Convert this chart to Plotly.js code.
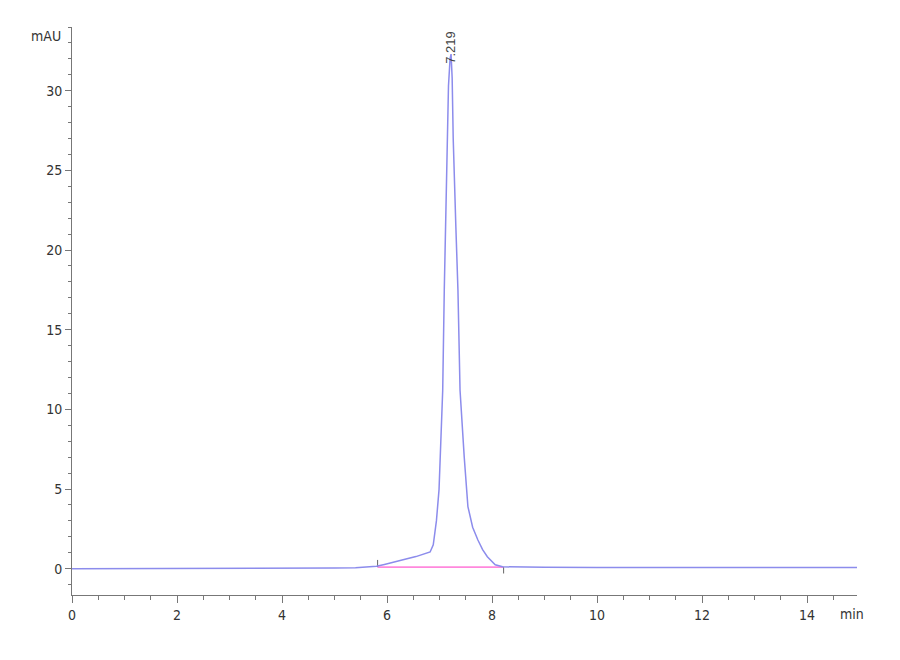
<!DOCTYPE html>
<html>
<head>
<meta charset="utf-8">
<script src="https://cdn.plot.ly/plotly-3.0.1.min.js"></script>
<style>
  html, body { margin: 0; padding: 0; background: #fff; }
  #chart { width: 900px; height: 660px; }
</style>
</head>
<body>
<div id="chart"></div>
<script>
// --- chromatogram values (min, mAU) ---
const times = [0, 1, 2, 3, 4, 4.5, 5, 5.4, 5.65, 5.8, 5.95, 6.1, 6.19, 6.38, 6.55, 6.7, 6.82,
  6.88, 6.94, 6.99, 7.03, 7.06, 7.09, 7.14, 7.17, 7.2, 7.219, 7.24, 7.26, 7.31, 7.35, 7.39,
  7.43, 7.47, 7.54, 7.63, 7.73, 7.82, 7.91, 8.06, 8.2, 8.5, 9, 10, 11, 12, 13, 14, 14.95];
const signal = [0, 0, 0, 0.01, 0.02, 0.03, 0.04, 0.06, 0.09, 0.15, 0.27, 0.38, 0.46, 0.63, 0.76, 0.9, 1.05,
  1.5, 3.0, 4.96, 8.0, 11.2, 17.5, 26.9, 30.3, 32.0, 32.3, 30.8, 27.0, 21.5, 17.5, 11.2,
  9.0, 7.0, 3.9, 2.6, 1.8, 1.2, 0.75, 0.25, 0.12, 0.1, 0.09, 0.08, 0.08, 0.08, 0.08, 0.08, 0.08];

// integration baseline and its start / end markers
const baseX = [5.82, 8.22];
const baseY = [0.1, 0.1];
const startMarkX = [5.82, 5.82];
const startMarkY = [0.1, 0.55];
const endMarkX = [8.22, 8.22];
const endMarkY = [0.1, -0.3];

const peakTime = 7.219;
const peakLabel = '7.219';

const tickFont = { family: 'DejaVu Sans Condensed, Liberation Sans Narrow, Liberation Sans, sans-serif', size: 14, color: '#333' };
const axisColor = '#777';

const traces = [
  {
    x: baseX, y: baseY, mode: 'lines', type: 'scatter',
    line: { color: '#ff88dd', width: 1.8 }, hoverinfo: 'skip'
  },
  {
    x: startMarkX, y: startMarkY, mode: 'lines', type: 'scatter',
    line: { color: '#666', width: 1 }, hoverinfo: 'skip'
  },
  {
    x: endMarkX, y: endMarkY, mode: 'lines', type: 'scatter',
    line: { color: '#666', width: 1 }, hoverinfo: 'skip'
  },
  {
    x: times, y: signal, mode: 'lines', type: 'scatter',
    line: { color: '#8c8cec', width: 1.5 }
  }
];

const layout = {
  width: 900, height: 660,
  margin: { l: 72, r: 43, t: 27, b: 65 },
  paper_bgcolor: '#fff', plot_bgcolor: '#fff',
  showlegend: false,
  font: tickFont,
  xaxis: {
    range: [0, 14.95], showgrid: false, zeroline: false,
    showline: true, linecolor: axisColor, linewidth: 1,
    ticks: 'outside', ticklen: 7, tickcolor: axisColor, tickwidth: 1,
    dtick: 2, tick0: 0, tickfont: tickFont,
    minor: { dtick: 0.5, ticks: 'outside', ticklen: 4, tickcolor: axisColor, showgrid: false }
  },
  yaxis: {
    range: [-1.65, 34], showgrid: false, zeroline: false,
    showline: true, linecolor: axisColor, linewidth: 1,
    ticks: 'outside', ticklen: 6, tickcolor: axisColor, tickwidth: 1,
    dtick: 5, tick0: 0, tickfont: tickFont,
    minor: { dtick: 1, ticks: 'outside', ticklen: 3, tickcolor: axisColor, showgrid: false }
  },
  annotations: [
    {
      x: peakTime, y: 32.7, xref: 'x', yref: 'y', text: peakLabel, showarrow: false,
      textangle: -90, xanchor: 'center', yanchor: 'middle',
      font: { family: 'Liberation Sans, Arial, sans-serif', size: 13, color: '#444' }
    },
    {
      // y-axis unit, just left of the axis top
      x: -0.012, y: 1, xref: 'paper', yref: 'paper', text: 'mAU', showarrow: false,
      xanchor: 'right', yanchor: 'middle', yshift: -9, font: tickFont
    },
    {
      x: 1, y: 0, xref: 'paper', yref: 'paper', text: 'min', showarrow: false,
      xanchor: 'left', yanchor: 'top', xshift: -19, yshift: -9, font: tickFont
    }
  ]
};

Plotly.newPlot('chart', traces, layout, { displayModeBar: false, staticPlot: true });
</script>
</body>
</html>
